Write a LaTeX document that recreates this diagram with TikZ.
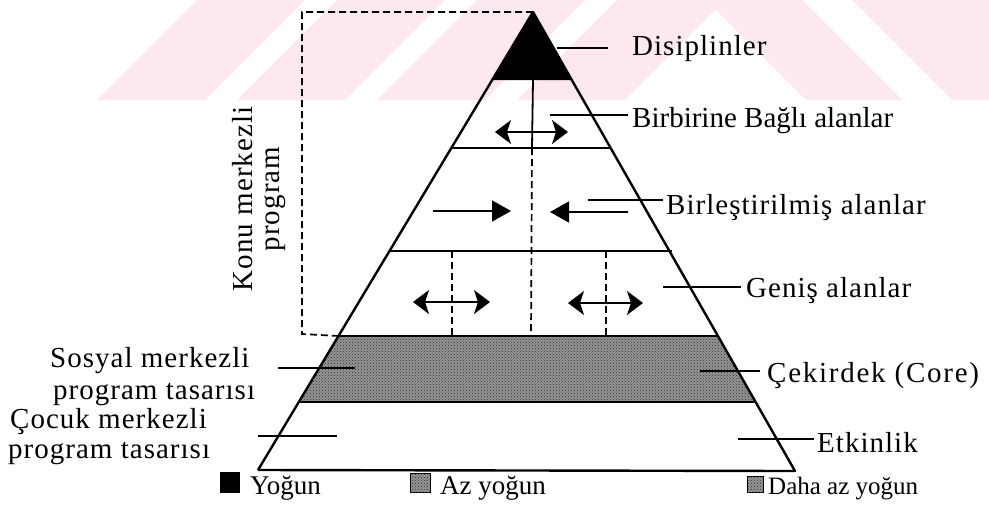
\documentclass[tikz,border=0pt]{standalone}
\usepackage{fontspec}
\setmainfont{Liberation Serif}
\newfontfamily\spacedserif[LetterSpace=3.5]{Liberation Serif}
\newfontfamily\widespacedserif[LetterSpace=6]{Liberation Serif}
\usetikzlibrary{arrows.meta,patterns,calc}
\definecolor{wmpink}{RGB}{252,232,237}

\begin{document}
\begin{tikzpicture}[x=1pt,y=-1pt,
  side/.style={line width=2.4pt, line join=round},
  tier/.style={line width=1.8pt},
  guide/.style={line width=1.7pt, dash pattern=on 7pt off 4pt},
  leader/.style={line width=1.6pt},
  dblarrow/.style={line width=2pt, {Stealth[length=16pt,width=24pt,inset=4pt]}-{Stealth[length=16pt,width=24pt,inset=4pt]}},
  fwdarrow/.style={line width=1.8pt, -{Triangle[length=19pt,width=21pt]}},
  lbl/.style={font=\spacedserif\fontsize{29}{30}\selectfont, inner sep=0pt, anchor=base west},
  lgd/.style={font=\fontsize{27}{28}\selectfont, inner sep=0pt, anchor=base west},
  dotted band/.style={fill=black!42, postaction={pattern=crosshatch dots, pattern color=black!80}},
]
\useasboundingbox (0,0) rectangle (989,515);

% faint stripes across the top
\begin{scope}[wmpink]
  \fill (97,100) -- (205,100) -- (305,0) -- (197,0) -- cycle;
  \fill (237,100) -- (345,100) -- (445,0) -- (337,0) -- cycle;
  \fill (377,100) -- (485,100) -- (585,0) -- (477,0) -- cycle;
  \fill (517,100) -- (625,100) -- (725,0) -- (617,0) -- cycle;
  \fill (706,0) -- (802,0) -- (902,100) -- (806,100) -- cycle;
  \fill (852,0) -- (989,0) -- (989,100) -- (952,100) -- cycle;
\end{scope}

% pyramid corners and tier ends
\coordinate (apex) at (533,12);
\coordinate (bl) at (258,470);
\coordinate (br) at (795,471);
\coordinate (t1l) at (492.2,80);  \coordinate (t1r) at (571.8,80);
\coordinate (t2l) at (451.3,148); \coordinate (t2r) at (610.6,148);
\coordinate (t3l) at (389.5,251); \coordinate (t3r) at (672,251);
\coordinate (t4l) at (338.5,336); \coordinate (t4r) at (717.9,336);
\coordinate (t5l) at (298.8,402); \coordinate (t5r) at (755.6,402);

% dark tip and dotted core band
\fill (apex) -- (t1l) -- (t1r) -- cycle;
\path[dotted band] (t4l) -- (t4r) -- (t5r) -- (t5l) -- cycle;

% tier lines
\draw[tier] (t2l) -- (t2r);
\draw[tier] (t3l) -- (t3r);
\draw[tier] (t4l) -- (t4r);
\draw[tier] (t5l) -- (t5r);
\draw[side] (bl) -- (apex) -- (br) -- (bl);

% vertical dividers
\coordinate (c1) at (533,80);
\coordinate (c2) at (532,148);
\coordinate (c3) at (531,336);
\coordinate (l1) at (452,251); \coordinate (l2) at (452,336);
\coordinate (r1) at (606,251); \coordinate (r2) at (606,336);
\draw[tier] (c1) -- (c2);
\draw[guide] (c2) -- (c3);
\draw[guide] (l1) -- (l2);
\draw[guide] (r1) -- (r2);

% dashed frame of the subject-centred area
\coordinate (k1) at (302,12);
\coordinate (k2) at (302,334);
\draw[guide] (apex) -- (k1) -- (k2) -- (t4l);
\node[font=\spacedserif\fontsize{29}{27}\selectfont, rotate=90, align=center, inner sep=0pt] (konu) at (259,199) {Konu merkezli\\program};

% arrows inside the tiers
\coordinate (a1) at (495,132); \coordinate (a2) at (568,132);
\draw[dblarrow] (a1) -- (a2);
\coordinate (b1) at (433,211); \coordinate (b2) at (511,211);
\coordinate (b3) at (628,212); \coordinate (b4) at (550,212);
\draw[fwdarrow] (b1) -- (b2);
\draw[fwdarrow] (b3) -- (b4);
\coordinate (d1) at (413,302); \coordinate (d2) at (490,302);
\coordinate (d3) at (568,303); \coordinate (d4) at (643,303);
\draw[dblarrow] (d1) -- (d2);
\draw[dblarrow] (d3) -- (d4);

% right-hand labels
\node[lbl] (dis) at (632,55) {Disiplinler};
\coordinate (dis0) at (557,48); \coordinate (dis1) at (608,48);
\draw[leader] (dis0) -- (dis1);

\node[lbl, font=\fontsize{29}{30}\selectfont] (bag) at (632,127) {Birbirine Bağlı alanlar};
\coordinate (bag0) at (550,115); \coordinate (bag1) at (628,115);
\draw[leader] (bag0) -- (bag1);

\node[lbl] (bir) at (666,214) {Birleştirilmiş alanlar};
\coordinate (bir0) at (588,200); \coordinate (bir1) at (663,200);
\draw[leader] (bir0) -- (bir1);

\node[lbl] (gen) at (746,297) {Geniş alanlar};
\coordinate (gen0) at (663,287); \coordinate (gen1) at (741,287);
\draw[leader] (gen0) -- (gen1);

\node[lbl, font=\widespacedserif\fontsize{29}{30}\selectfont] (cek) at (767,382) {Çekirdek (Core)};
\coordinate (cek0) at (700,371); \coordinate (cek1) at (760,371);
\draw[leader] (cek0) -- (cek1);

\node[lbl] (etk) at (817,452) {Etkinlik};
\coordinate (etk0) at (738,439); \coordinate (etk1) at (814,439);
\draw[leader] (etk0) -- (etk1);

% left-hand labels
\node[lbl] (sos1) at (50,367) {Sosyal merkezli};
\node[lbl] (sos2) at (53,399) {program tasarısı};
\coordinate (sos0) at (278,368); \coordinate (sosE) at (355,368);
\draw[leader] (sos0) -- (sosE);

\node[lbl] (coc1) at (10,428) {Çocuk merkezli};
\node[lbl] (coc2) at (8,458) {program tasarısı};
\coordinate (coc0) at (258,436); \coordinate (cocE) at (337,436);
\draw[leader] (coc0) -- (cocE);

% key
\fill (220,472) rectangle (240,493);
\node[lgd] (k-yog) at (250,494) {Yoğun};
\path[dotted band, draw=black, line width=0.8pt] (410,473) rectangle (430,492);
\node[lgd] (k-az) at (440,494) {Az yoğun};
\path[dotted band, draw=black, line width=0.8pt] (747,476) rectangle (763,492);
\node[lgd, font=\fontsize{25}{26}\selectfont] (k-daha) at (768,494) {Daha az yoğun};
\end{tikzpicture}
\end{document}
